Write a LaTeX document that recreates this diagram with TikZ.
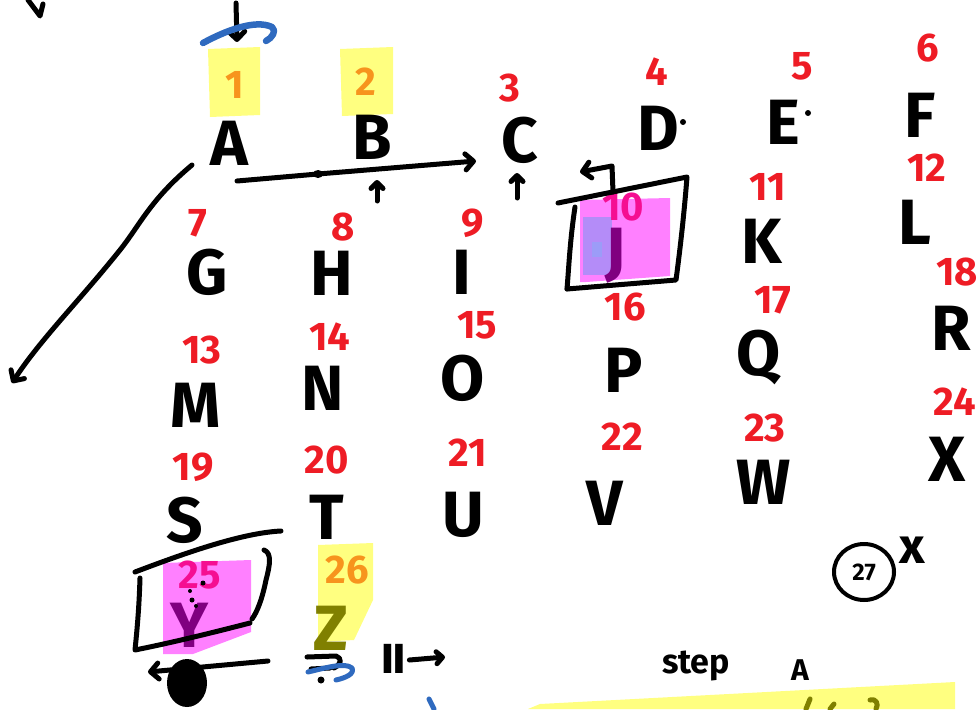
\documentclass[tikz,border=0pt]{standalone}
\usepackage{fontspec}
\setmainfont{Fira Sans}
\newfontfamily\symfont{DejaVu Sans}
\usetikzlibrary{arrows.meta,shapes.geometric}
\definecolor{inkred}{HTML}{EE1C25}
\definecolor{inkblue}{HTML}{2F6ABF}
\definecolor{inkolive}{HTML}{808000}
\definecolor{hlyellow}{HTML}{FFFF80}
\definecolor{hlmagenta}{HTML}{FF80FF}
\definecolor{hllavender}{HTML}{B48CF8}
\definecolor{hlblue}{HTML}{9C9CF8}
\definecolor{underyellow}{HTML}{F7941D}
\definecolor{undermagenta}{HTML}{F50E92}
\definecolor{inkpurple}{HTML}{800080}

\begin{document}
\begin{tikzpicture}[x=1pt,y=-1pt,
  letter/.style={font=\fontsize{64}{64}\selectfont\bfseries, inner sep=0pt},
  num/.style={font=\fontsize{40}{40}\selectfont\bfseries, text=inkred, inner sep=0pt},
  ink/.style={line width=5pt, line cap=round, line join=round},
  pen/.style={ink, -{Straight Barb[round, length=8pt, width=16pt]}},
  yellowhl/.style={fill=hlyellow},
  magentahl/.style={fill=hlmagenta},
  handbox/.style={ink},
]
\useasboundingbox (0,0) rectangle (979,709);
\clip (0,0) rectangle (979,709);

% ---- highlighter marks (under the ink, which is tinted where covered) ----
\fill[yellowhl] (208,49) -- (260,47) -- (260,115) -- (210,117) -- cycle;
\fill[yellowhl] (340,49) -- (393,47) -- (393,114) -- (342,116) -- cycle;
\fill[yellowhl] (318,545) -- (373,543) -- (373,600) -- (354,640) -- (318,642) -- cycle;
\fill[magentahl] (580,200) -- (670,198) -- (670,276) -- (586,282) -- (580,282) -- cycle;
\fill[hllavender] (583,217) rectangle (612,275);
\fill[hlblue] (592,242) rectangle (602,257);
\fill[magentahl] (163,563) -- (251,560) -- (251,632) -- (193,654) -- (163,654) -- cycle;
\fill[yellowhl] (528,709) -- (540,704) -- (955,682) -- (955,709) -- cycle;

% ---- alphabet grid ----
\node[letter] (A) at (229,143) {A};
\node[letter] (B) at (372,137) {B};
\node[letter] (C) at (520,140) {C};
\node[letter] (D) at (658,128) {D};
\node[letter] (E) at (783,122) {E};
\node[letter] (F) at (920,115) {F};

\node[letter] (G) at (207,272) {G};
\node[letter] (H) at (332,273) {H};
\node[letter] (I) at (462,272) {I};
\node[letter, text=inkpurple] (J) at (616,256) {J};
\node[letter] (K) at (762,241) {K};
\node[letter] (L) at (915,222) {L};

\node[letter] (M) at (196,405) {M};
\node[letter] (N) at (323,388) {N};
\node[letter] (O) at (463,378) {O};
\node[letter] (P) at (624,370) {P};
\node[letter] (Q) at (759,357) {Q};
\node[letter] (R) at (951,328) {R};

\node[letter] (S) at (185,520) {S};
\node[letter] (T) at (327,517) {T};
\node[letter] (U) at (463,515) {U};
\node[letter] (V) at (605,503) {V};
\node[letter] (W) at (764,482) {W};
\node[letter] (X) at (947,459) {X};

\node[letter, text=inkpurple] (Y) at (190,625) {Y};
\node[letter, text=inkolive] (Z) at (331,628) {Z};

% ---- index numbers ----
\node[num, text=underyellow] (n1) at (235,85) {1};
\node[num, text=underyellow] (n2) at (366,82) {2};
\node[num] (n3) at (510,88) {3};
\node[num] (n4) at (657,72) {4};
\node[num] (n5) at (802,66) {5};
\node[num] (n6) at (928,48) {6};
\node[num] (n7) at (198,223) {7};
\node[num] (n8) at (343,227) {8};
\node[num] (n9) at (473,223) {9};
\node[num, text=undermagenta] (n10) at (623,207) {10};
\node[num] (n11) at (768,187) {11};
\node[num] (n12) at (927,168) {12};
\node[num] (n13) at (202,350) {13};
\node[num] (n14) at (330,337) {14};
\node[num] (n15) at (477,325) {15};
\node[num] (n16) at (625,307) {16};
\node[num] (n17) at (773,300) {17};
\node[num] (n18) at (957,272) {18};
\node[num] (n19) at (193,467) {19};
\node[num] (n20) at (327,460) {20};
\node[num] (n21) at (468,453) {21};
\node[num] (n22) at (622,437) {22};
\node[num] (n23) at (765,428) {23};
\node[num] (n24) at (955,402) {24};
\node[num, text=undermagenta] (n25) at (200,575) {25};
\node[num, text=underyellow] (n26) at (347,570) {26};

% small dots beside D and E
\fill (683,122) circle (3pt);
\fill (808,113) circle (3pt);

% ---- boxes drawn round J and Y ----
\coordinate (jtl) at (558,203);
\coordinate (jtr) at (687,177);
\coordinate (jbr) at (676,280);
\coordinate (jbl) at (567,289);
\draw[handbox] (jtl) -- (jtr) .. controls (684,215) and (680,250) .. (jbr) -- (jbl);
\draw[handbox] (575,207) .. controls (570,240) and (569,265) .. (jbl);

\coordinate (ytl) at (135,572);
\coordinate (ytr) at (281,531);
\draw[handbox] (ytl) .. controls (180,555) and (240,533) .. (ytr);
\draw[handbox] (140,578) .. controls (139,610) and (137,630) .. (135,650)
  .. controls (175,642) and (215,632) .. (250,623);
\draw[handbox] (264,550) .. controls (272,553) and (270,565) .. (266,580)
  .. controls (262,600) and (257,612) .. (252,619);
\fill (203,583) circle (2.5pt);
\fill (190,591) circle (2pt);
\fill (192,600) circle (2.5pt);
\fill (196,606) circle (2pt);

% ---- arrows ----
% arrow coming down onto A, with the blue turn over it
\coordinate (atop) at (236,3);
\draw[pen] (atop) -- (237,42);
\draw[ink, inkblue, line width=6.5pt] (203,43) .. controls (225,31) and (255,19) .. (272,27)
  .. controls (277,31) and (272,38) .. (266,41);

% long sweep to the left margin
\coordinate (sweepstart) at (192,165);
\coordinate (sweepend) at (12,383);
\draw[pen] (sweepstart) .. controls (150,200) and (140,225) .. (120,250)
  .. controls (80,300) and (40,340) .. (sweepend);

% arrow under A and B towards C
\coordinate (rowstart) at (237,181);
\coordinate (rowend) at (476,161);
\draw[pen] (rowstart) -- (318,174) -- (rowend);
\fill (318,174) ellipse (5pt and 4pt);

% small up arrows under B and C
\draw[ink, -{Straight Barb[round, length=6pt, width=12pt]}] (377,201) -- (377,180);
\draw[ink, -{Straight Barb[round, length=6pt, width=12pt]}] (517,198) -- (517,173);

% hook arrow above the J box
\coordinate (hookbase) at (613,192);
\coordinate (hooktip) at (580,172);
\draw[pen] (hookbase) -- (612,166) -- (hooktip);

% arrow under Y with the filled blot
\coordinate (ybase) at (268,661);
\coordinate (ytip) at (148,672);
\draw[pen] (ybase) -- (ytip);
\fill (187,683) ellipse (20pt and 24pt);

% marks under Z
\draw[ink] (307,657) -- (336,656) .. controls (342,658) and (342,664) .. (334,668);
\draw[ink] (311,669) -- (330,668);
\fill (321,680) circle (3.5pt);
\draw[ink, inkblue] (308,672) .. controls (325,668) and (345,662) .. (352,668)
  .. controls (355,674) and (345,678) .. (336,680);
\node[inner sep=0pt, font=\symfont\fontsize{40}{40}\selectfont\bfseries] (roman) at (394,659) {Ⅱ};
\coordinate (romanend) at (445,657);
\draw[ink, -{Straight Barb[round, length=6pt, width=12pt]}] (roman.east) ++(2,1) -- (romanend);
\draw[ink, inkblue] (429,699) -- (434,709);

% circled 27 with its x
\node[draw, ellipse, line width=4pt, minimum width=60pt, minimum height=56pt, inner sep=0pt,
  font=\fontsize{24}{24}\selectfont\bfseries] (c27) at (864,572) {27};
\node[inner sep=0pt, font=\fontsize{50}{50}\selectfont\bfseries] (xmark) at (912,550) {x};

% notes at the bottom
\node[inner sep=0pt, font=\fontsize{34}{34}\selectfont\bfseries] (stepnote) at (696,666) {step};
\node[inner sep=0pt, font=\fontsize{30}{30}\selectfont\bfseries] (anote) at (800,670) {A};
\draw[ink, inkolive] (810,699) -- (806,709);
\draw[ink, inkolive] (834,704) -- (830,709);
\draw[ink, inkolive] (870,700) .. controls (876,698) and (879,704) .. (876,709);

% corner mark at the top left
\draw[ink] (28,0) -- (40,16) -- (43,4);
\end{tikzpicture}
\end{document}
